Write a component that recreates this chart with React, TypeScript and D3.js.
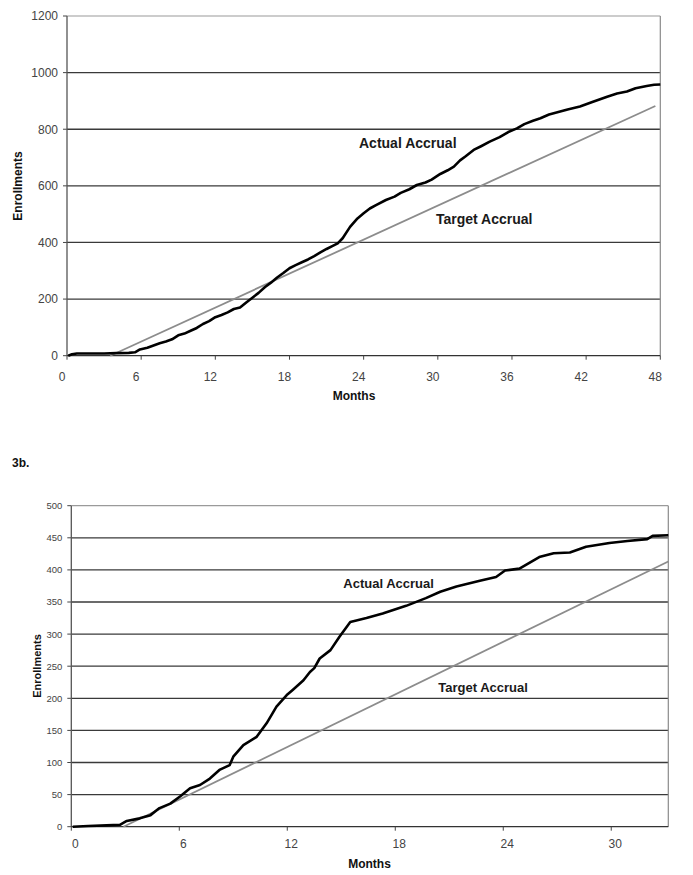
import React from 'react';
import * as d3 from 'd3';

// ---------- Chart 3a ----------
const monthTicksA = [0, 6, 12, 18, 24, 30, 36, 42, 48];
const enrollTicksA = [0, 200, 400, 600, 800, 1000, 1200];
const actualMonthsA = [0.1, 0.4, 0.8, 2, 3, 4, 5, 5.5, 5.9, 6.5, 7, 7.5, 8, 8.5, 9, 9.5, 10, 10.5, 11, 11.5, 12, 12.5, 13, 13.5, 14, 14.5, 15, 15.5, 16, 16.5, 17, 17.5, 18, 18.5, 19, 19.5, 20, 20.5, 21, 21.5, 21.9, 22.3, 22.9, 23.5, 24, 24.5, 25, 25.8, 26.5, 27, 27.7, 28.3, 29, 29.5, 30.2, 30.8, 31.3, 31.8, 32.2, 32.9, 33.5, 34.2, 35, 35.7, 36.4, 37, 37.7, 38.3, 39, 39.6, 40.5, 41.5, 42.5, 43.7, 44.5, 45.3, 46, 46.9, 47.5, 48];
const actualValuesA = [0, 5, 8, 8, 8, 9, 10, 12, 22, 28, 36, 44, 50, 58, 72, 78, 88, 98, 112, 122, 136, 144, 153, 165, 170, 188, 205, 222, 242, 258, 276, 292, 309, 320, 330, 340, 352, 365, 377, 388, 397, 415, 455, 485, 503, 520, 532, 550, 562, 575, 588, 603, 612, 622, 642, 655, 668, 690, 703, 727, 740, 756, 772, 790, 803, 818, 830, 839, 852, 859, 870, 880, 896, 915, 926, 933, 945, 953, 957, 958];
const targetMonthsA = [3.5, 47.6];
const targetValuesA = [0, 882];

// ---------- Chart 3b ----------
const monthTicksB = [0, 6, 12, 18, 24, 30];
const enrollTicksB = [0, 50, 100, 150, 200, 250, 300, 350, 400, 450, 500];
const actualMonthsB = [0.08, 0.94, 1.96, 2.7, 3.08, 3.8, 4.4, 4.9, 5.5, 6.04, 6.6, 7.15, 7.7, 8.26, 8.8, 9.0, 9.56, 10.3, 10.85, 11.4, 11.97, 12.3, 12.9, 13.26, 13.5, 13.8, 14.4, 14.9, 15.5, 16.4, 17.3, 18.6, 19.7, 20.5, 21.4, 22.7, 23.6, 24.1, 24.9, 26.0, 26.8, 27.7, 28.6, 29.9, 30.9, 32.0, 32.3, 33.17];
const actualValuesB = [0, 1, 2, 3, 9, 13, 18, 29, 36, 47, 60, 65, 75, 89, 96, 109, 127, 140, 161, 187, 205, 213, 228, 241, 247, 262, 275, 296, 319, 325, 332, 344, 356, 366, 374, 383, 389, 399, 402, 420, 426, 427, 436, 442, 445, 448, 453, 454];
const targetMonthsB = [2.9, 33.17];
const targetValuesB = [0, 413];

const FONT = "'Liberation Sans', Arial, sans-serif";

type PanelProps = {
  left: number; right: number; top: number; bottom: number;
  xMax: number; yMax: number;
  xTicks: number[]; yTicks: number[];
  yTickFont: number; xTickFont: number; xLabelDx: number; xLabelY: number;
  actualM: number[]; actualV: number[];
  targetM: number[]; targetV: number[];
  yTitleX: number; yTitleY: number; yTitleSize: number;
  xTitleX: number; xTitleY: number; xTitleSize: number;
  actualLabel: [number, number]; targetLabel: [number, number]; labelSize: number;
};

function Panel(p: PanelProps) {
  const x = d3.scaleLinear().domain([0, p.xMax]).range([p.left, p.right]);
  const y = d3.scaleLinear().domain([0, p.yMax]).range([p.bottom, p.top]);
  const line = d3.line<[number, number]>().x(d => x(d[0])).y(d => y(d[1]));
  const actual = line(p.actualM.map((m, i) => [m, p.actualV[i]] as [number, number])) || '';
  const target = line(p.targetM.map((m, i) => [m, p.targetV[i]] as [number, number])) || '';
  return (
    <g>
      {p.yTicks.map(t => (
        <g key={'y' + t}>
          {t > 0 && (
            <line x1={p.left} x2={p.right} y1={y(t)} y2={y(t)}
              stroke={t === p.yMax ? '#9a9a9a' : '#3a3a3a'} strokeWidth={t === p.yMax ? 1.2 : 1.3} />
          )}
          <line x1={p.left - 4} x2={p.left} y1={y(t)} y2={y(t)} stroke="#444" strokeWidth={1} />
          <text x={p.left - 9} y={y(t) + p.yTickFont * 0.36} textAnchor="end" fontSize={p.yTickFont}
            fontFamily={FONT} fill="#444">{t}</text>
        </g>
      ))}
      <line x1={p.right} x2={p.right} y1={p.top} y2={p.bottom} stroke="#8a8a8a" strokeWidth={1.2} />
      <line x1={p.left} x2={p.left} y1={p.top} y2={p.bottom} stroke="#555" strokeWidth={1.3} />
      <line x1={p.left} x2={p.right} y1={p.bottom} y2={p.bottom} stroke="#333" strokeWidth={1.3} />
      {p.xTicks.map(t => (
        <g key={'x' + t}>
          <line x1={x(t)} x2={x(t)} y1={p.bottom} y2={p.bottom + 4} stroke="#444" strokeWidth={1} />
          <text x={x(t) + p.xLabelDx} y={p.xLabelY} textAnchor="middle" fontSize={p.xTickFont}
            fontFamily={FONT} fill="#444">{t}</text>
        </g>
      ))}
      <path d={target} fill="none" stroke="#8c8c8c" strokeWidth={1.8} />
      <path d={actual} fill="none" stroke="#000" strokeWidth={2.6} strokeLinejoin="round" />
      <text x={p.actualLabel[0]} y={p.actualLabel[1]} fontSize={p.labelSize} fontWeight="bold"
        fontFamily={FONT} fill="#1a1a1a">Actual Accrual</text>
      <text x={p.targetLabel[0]} y={p.targetLabel[1]} fontSize={p.labelSize} fontWeight="bold"
        fontFamily={FONT} fill="#1a1a1a">Target Accrual</text>
      <text transform={`translate(${p.yTitleX},${p.yTitleY}) rotate(-90)`} textAnchor="middle"
        fontSize={p.yTitleSize} fontWeight="bold" fontFamily={FONT} fill="#111">Enrollments</text>
      <text x={p.xTitleX} y={p.xTitleY} textAnchor="middle" fontSize={p.xTitleSize} fontWeight="bold"
        fontFamily={FONT} fill="#111">Months</text>
    </g>
  );
}

export default function App() {
  return (
    <svg width={693} height={875} style={{ position: 'absolute', left: 0, top: 0, background: '#fff' }}>
      <rect width={693} height={875} fill="#fff" />
      <Panel left={67} right={660.3} top={16} bottom={355.7} xMax={48} yMax={1200}
        xTicks={monthTicksA} yTicks={enrollTicksA} yTickFont={12} xTickFont={12} xLabelDx={-5} xLabelY={381}
        actualM={actualMonthsA} actualV={actualValuesA} targetM={targetMonthsA} targetV={targetValuesA}
        yTitleX={21.5} yTitleY={186} yTitleSize={12} xTitleX={354} xTitleY={400} xTitleSize={12}
        actualLabel={[359, 148]} targetLabel={[436, 224]} labelSize={14} />
      <text x={12} y={467} fontSize={12} fontWeight="bold" fontFamily={FONT} fill="#111">3b.</text>
      <Panel left={71.3} right={668.3} top={505.7} bottom={826.7} xMax={33.17} yMax={500}
        xTicks={monthTicksB} yTicks={enrollTicksB} yTickFont={9.5} xTickFont={12} xLabelDx={4} xLabelY={847.5}
        actualM={actualMonthsB} actualV={actualValuesB} targetM={targetMonthsB} targetV={targetValuesB}
        yTitleX={40.5} yTitleY={666} yTitleSize={11} xTitleX={369.5} xTitleY={868} xTitleSize={12}
        actualLabel={[343.3, 587.5]} targetLabel={[438.3, 691.5]} labelSize={13} />
    </svg>
  );
}
